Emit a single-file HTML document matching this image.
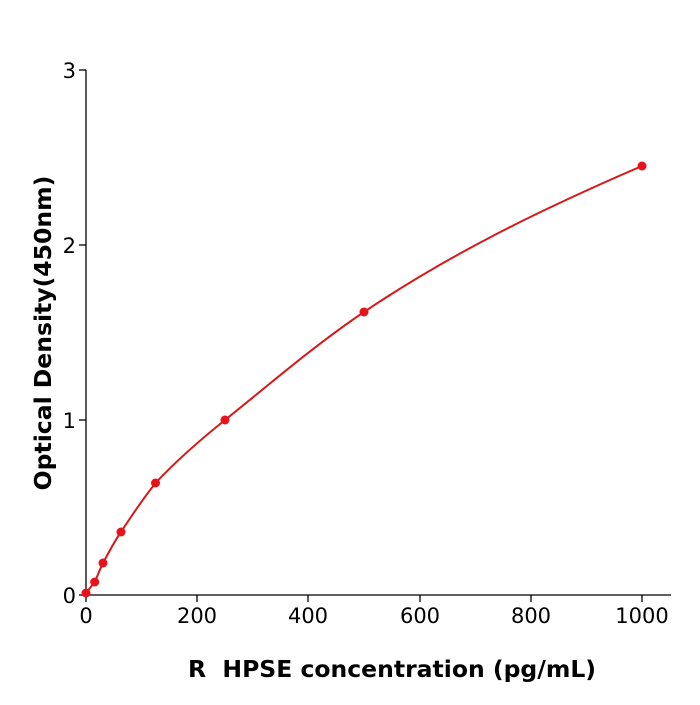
<!DOCTYPE html>
<html><head><style>body{margin:0;background:#fff}</style></head><body>
<svg width="700" height="700" xmlns="http://www.w3.org/2000/svg" font-family="DejaVu Sans, sans-serif">
<rect width="700" height="700" fill="#fff"/>
<g stroke="#000" stroke-width="1.3" fill="none">
<line x1="86" y1="70" x2="86" y2="596"/>
<line x1="85" y1="595" x2="671" y2="595"/>
<line x1="79" y1="70" x2="86" y2="70"/>
<line x1="79" y1="245" x2="86" y2="245"/>
<line x1="79" y1="420" x2="86" y2="420"/>
<line x1="79" y1="595" x2="86" y2="595"/>
<line x1="86" y1="595" x2="86" y2="602"/>
<line x1="197" y1="595" x2="197" y2="602"/>
<line x1="308" y1="595" x2="308" y2="602"/>
<line x1="420" y1="595" x2="420" y2="602"/>
<line x1="531" y1="595" x2="531" y2="602"/>
<line x1="642" y1="595" x2="642" y2="602"/>
</g>
<g font-size="21" text-anchor="end" fill="#000">
<text x="76" y="78">3</text><text x="76" y="253">2</text><text x="76" y="428">1</text><text x="76" y="603">0</text>
</g>
<g font-size="21" text-anchor="middle" fill="#000">
<text x="86" y="623">0</text><text x="197" y="623">200</text><text x="308" y="623">400</text><text x="420" y="623">600</text><text x="531" y="623">800</text><text x="642" y="623">1000</text>
</g>
<text x="392" y="677" font-size="23.5" font-weight="bold" text-anchor="middle" xml:space="preserve" style="white-space:pre">R  HPSE concentration (pg/mL)</text>
<text transform="translate(51,333) rotate(-90)" font-size="23.5" font-weight="bold" text-anchor="middle">Optical Density(450nm)</text>
<path d="M86,593 L94.7,582 C98,575 100,569 103,563 C109,552 114,542 121,532 C132,515 143,499 155.5,483 C178,459 200,440 225,420 C270,384 315,345 364,312 C450,254 540,210 642,166" stroke="#d61a1a" stroke-width="2" fill="none"/>
<g fill="#e8121a">
<circle cx="86" cy="593" r="4.5"/><circle cx="94.7" cy="582" r="4.5"/><circle cx="103" cy="563" r="4.5"/><circle cx="121" cy="532" r="4.5"/><circle cx="155.5" cy="483" r="4.5"/><circle cx="225" cy="420" r="4.5"/><circle cx="364" cy="312" r="4.5"/><circle cx="642" cy="166" r="4.5"/>
</g>
</svg>
</body></html>
